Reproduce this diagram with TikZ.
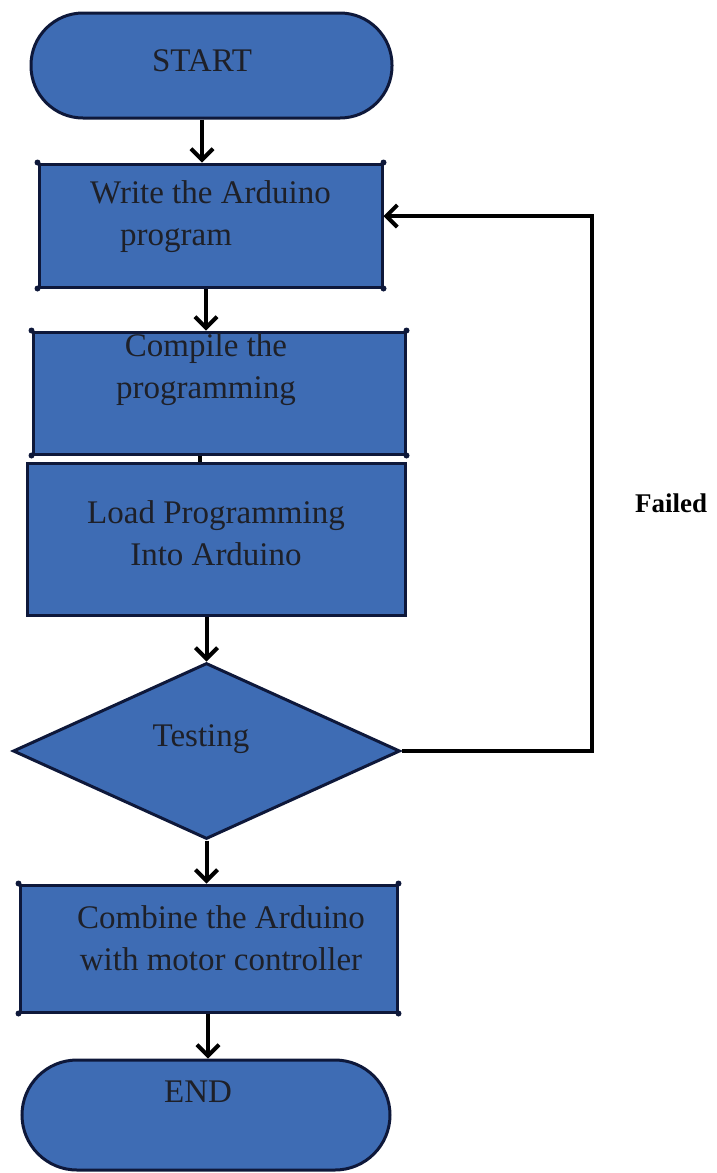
\documentclass[tikz,border=0pt]{standalone}
\usepackage{fontspec}
\setmainfont{Liberation Serif}
\usetikzlibrary{shapes.geometric,arrows.meta}
\definecolor{boxblue}{RGB}{62,108,180}
\definecolor{edgenavy}{RGB}{14,24,58}
\definecolor{inktext}{RGB}{30,32,40}
\begin{document}
\begin{tikzpicture}[x=1pt,y=-1pt,
  flowbox/.style={draw=edgenavy,line width=3pt,fill=boxblue,rectangle,inner sep=0pt},
  pill/.style={flowbox,rounded corners=#1},
  boxtext/.style={font=\fontsize{33}{42}\selectfont,text=inktext,align=center,inner sep=0pt},
  arr/.style={draw=black,line width=4pt,-{Straight Barb[length=11pt,width=22pt]}},
  plainline/.style={draw=black,line width=4pt}]
\useasboundingbox (0,0) rectangle (717,1173);

% shapes
\node[pill=52pt, minimum width=361pt, minimum height=105pt] (start) at (211.5,65.5) {};
\node[flowbox, minimum width=343pt, minimum height=123pt] (write) at (210.5,225.5) {};
\node[flowbox, minimum width=372pt, minimum height=122pt] (compile) at (219,393) {};
\node[flowbox, minimum width=378pt, minimum height=152pt] (load) at (216,539) {};
\node[flowbox, diamond, minimum width=387pt, minimum height=176pt] (test) at (206.5,751) {};
\node[flowbox, minimum width=377pt, minimum height=127pt] (combine) at (208.5,948.5) {};
\node[pill=55pt, minimum width=368pt, minimum height=110pt] (stop) at (206,1115) {};

% corner dots
\foreach \n in {write,compile,combine}
  \foreach \c in {north west,north east,south west,south east}
    \fill[edgenavy] (\n.\c) circle (3pt);

% texts
\node[boxtext] (startt) at (202,61) {START};
\node[boxtext, align=left, anchor=west] (writet) at (90,217) {Write the Arduino\\\hspace*{30pt}program};
\node[boxtext] (compilet) at (206,370) {Compile the\\programming};
\node[boxtext] (loadt) at (216,533) {Load Programming\\Into Arduino};
\node[boxtext] (testt) at (201,739) {Testing};
\node[boxtext] (combinet) at (221,938) {Combine the Arduino\\with motor controller};
\node[boxtext] (stopt) at (198,1092) {END};
\node[font=\bfseries\fontsize{27}{32}\selectfont, text=black, inner sep=0pt] (failed) at (671,503) {Failed};

% connectors
\draw[arr] ([xshift=-9.5pt]start.south) -- ([xshift=-8.5pt]write.north);
\draw[arr] ([xshift=-4.5pt]write.south) -- ([xshift=-13pt]compile.north);
\draw[plainline] ([xshift=-19pt]compile.south) -- ([xshift=-16pt]load.north);
\draw[arr] (load.south -| test.north) -- (test.north);
\draw[arr] (test.south) -- (test.south |- combine.north);
\draw[arr] ([xshift=-0.5pt]combine.south) -- ([xshift=2pt]stop.north);
\coordinate (fbtop) at (592,216);
\draw[arr] (test.east) -| (fbtop) -- (write.east |- fbtop);
\end{tikzpicture}
\end{document}
